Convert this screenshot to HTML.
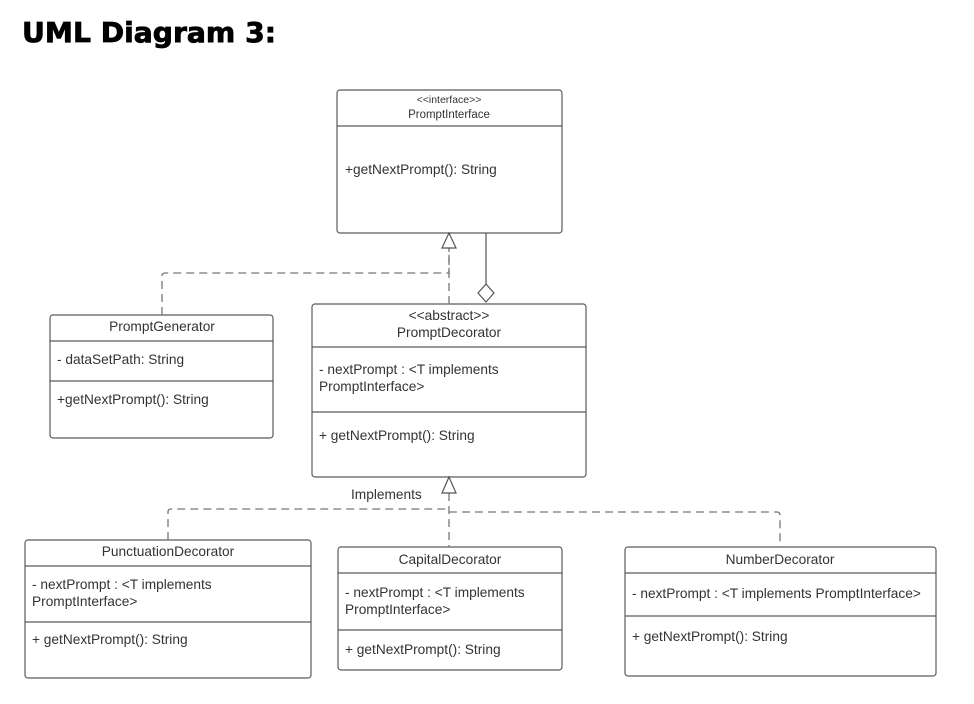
<!DOCTYPE html>
<html><head><meta charset="utf-8"><style>
html,body{margin:0;padding:0;background:#fff;}
svg{display:block}
text{font-family:"Liberation Sans",Arial,sans-serif;fill:#333;}
</style></head><body>
<svg width="974" height="704" viewBox="0 0 974 704" xmlns="http://www.w3.org/2000/svg">
<text x="22" y="42" style="font-family:'DejaVu Sans',sans-serif;font-weight:bold;font-size:28px;fill:#000;stroke:#000;stroke-width:0.8" textLength="254" lengthAdjust="spacingAndGlyphs">UML Diagram 3:</text>

<g fill="none" stroke="#5a5a5a" stroke-width="1.2">
<rect x="337" y="90" width="225" height="143" rx="3" fill="#fff"/>
<line x1="337" y1="126" x2="562" y2="126"/>
<rect x="50" y="315" width="223" height="123" rx="3"/>
<line x1="50" y1="341" x2="273" y2="341"/>
<line x1="50" y1="381" x2="273" y2="381"/>
<rect x="312" y="304" width="274" height="173" rx="3"/>
<line x1="312" y1="347" x2="586" y2="347"/>
<line x1="312" y1="412" x2="586" y2="412"/>
<rect x="25" y="540" width="286" height="138" rx="3"/>
<line x1="25" y1="566" x2="311" y2="566"/>
<line x1="25" y1="622" x2="311" y2="622"/>
<rect x="338" y="547" width="224" height="123" rx="3"/>
<line x1="338" y1="573" x2="562" y2="573"/>
<line x1="338" y1="630" x2="562" y2="630"/>
<rect x="625" y="547" width="311" height="129" rx="3"/>
<line x1="625" y1="573" x2="936" y2="573"/>
<line x1="625" y1="616" x2="936" y2="616"/>
</g>

<g fill="none" stroke="#777" stroke-width="1.3" stroke-dasharray="8,5">
<path d="M162 315 V276 Q162 273 165 273 H449 V248"/>
<path d="M449 304 V248"/>
<path d="M449 493 V547"/>
<path d="M168 540 V512 Q168 509 171 509 H449"/>
<path d="M449 512 H777 Q780 512 780 515 V547"/>
</g>
<g fill="#fff" stroke="#555" stroke-width="1.2">
<polygon points="449,233 442,248 456,248"/>
<polygon points="449,477 442,493 456,493"/>
<line x1="486" y1="233" x2="486" y2="284"/>
<polygon points="486,284 494,293 486,302 478,293"/>
</g>

<g font-size="13.7">
<text x="449" y="103" text-anchor="middle" font-size="10.5">&lt;&lt;interface&gt;&gt;</text>
<text x="449" y="118" text-anchor="middle" font-size="11.5">PromptInterface</text>
<text x="345" y="174">+getNextPrompt(): String</text>

<text x="162" y="331" text-anchor="middle">PromptGenerator</text>
<text x="57" y="364">- dataSetPath: String</text>
<text x="57" y="404">+getNextPrompt(): String</text>

<text x="449" y="320" text-anchor="middle">&lt;&lt;abstract&gt;&gt;</text>
<text x="449" y="337" text-anchor="middle">PromptDecorator</text>
<text x="319" y="374">- nextPrompt : &lt;T implements</text>
<text x="319" y="391">PromptInterface&gt;</text>
<text x="319" y="440">+ getNextPrompt(): String</text>

<text x="351" y="499">Implements</text>

<text x="168" y="556" text-anchor="middle">PunctuationDecorator</text>
<text x="32" y="589">- nextPrompt : &lt;T implements</text>
<text x="32" y="606">PromptInterface&gt;</text>
<text x="32" y="644">+ getNextPrompt(): String</text>

<text x="450" y="564" text-anchor="middle">CapitalDecorator</text>
<text x="345" y="597">- nextPrompt : &lt;T implements</text>
<text x="345" y="614">PromptInterface&gt;</text>
<text x="345" y="654">+ getNextPrompt(): String</text>

<text x="780" y="564" text-anchor="middle">NumberDecorator</text>
<text x="632" y="598">- nextPrompt : &lt;T implements PromptInterface&gt;</text>
<text x="632" y="641">+ getNextPrompt(): String</text>
</g>
</svg>
</body></html>
